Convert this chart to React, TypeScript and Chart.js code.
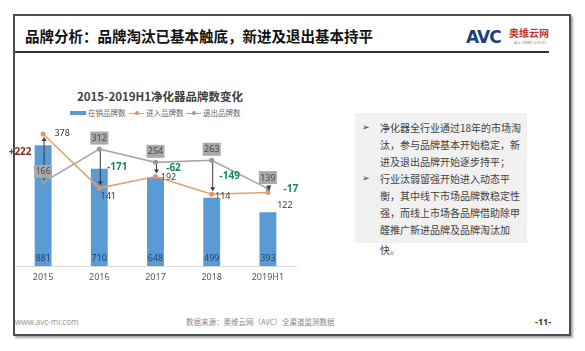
import React, { useEffect, useRef } from "react";
import { Chart, registerables } from "chart.js";

Chart.register(...registerables);

const categories = ["2015", "2016", "2017", "2018", "2019H1"];
const onSaleBrands = [881, 710, 648, 499, 393];
const enteringBrands = [378, 141, 192, 114, 122];
const exitingBrands = [166, 312, 254, 263, 139];
const netChangeLabels = ["+222", "-171", "-62", "-149", "-17"];

const seriesNames = ["在销品牌数", "进入品牌数", "退出品牌数"];
const chartTitle = "2015-2019H1净化器品牌数变化";
const slideTitle = "品牌分析：品牌淘汰已基本触底，新进及退出基本持平";
const bulletLines = [
  { bullet: true, text: "净化器全行业通过18年的市场淘" },
  { bullet: false, text: "汰，参与品牌基本开始稳定，新" },
  { bullet: false, text: "进及退出品牌开始逐步持平；" },
  { bullet: true, text: "行业汰弱留强开始进入动态平" },
  { bullet: false, text: "衡，其中线下市场品牌数稳定性" },
  { bullet: false, text: "强，而线上市场各品牌借助除甲" },
  { bullet: false, text: "醛推广新进品牌及品牌淘汰加" },
  { bullet: false, text: "快。" },
];

const BLUE = "#5b9bd5";
const ORANGE = "#dea26e";
const GRAY = "#a5a5a5";
const CJK = "'Noto Sans CJK SC', 'Noto Sans', sans-serif";
const NUM = "'Noto Sans', 'DejaVu Sans', sans-serif";

const labelPlugin = {
  id: "slideLabels",
  afterDatasetsDraw(chart: any) {
    const ctx = chart.ctx as CanvasRenderingContext2D;
    const barMeta = chart.getDatasetMeta(0);
    const inMeta = chart.getDatasetMeta(1);
    const outMeta = chart.getDatasetMeta(2);
    const bottom = chart.chartArea.bottom;
    ctx.save();
    ctx.textAlign = "center";
    ctx.textBaseline = "middle";

    // bar values
    ctx.font = `9px ${NUM}`;
    ctx.fillStyle = "#24446a";
    barMeta.data.forEach((b: any, i: number) => {
      ctx.fillText(String(onSaleBrands[i]), b.x, bottom - 8);
    });

    // arrows from exit to entry
    categories.forEach((_, i) => {
      const x = outMeta.data[i].x + 1;
      const y0 = outMeta.data[i].y;
      const y1 = inMeta.data[i].y;
      const dir = y1 > y0 ? 1 : -1;
      const yEnd = y1 - dir * 3;
      ctx.strokeStyle = "#3a3a3a";
      ctx.fillStyle = "#3a3a3a";
      ctx.lineWidth = 1;
      ctx.beginPath();
      ctx.moveTo(x, y0 + dir * 2);
      ctx.lineTo(x, yEnd - dir * 3);
      ctx.stroke();
      ctx.beginPath();
      ctx.moveTo(x, yEnd);
      ctx.lineTo(x - 2.5, yEnd - dir * 4);
      ctx.lineTo(x + 2.5, yEnd - dir * 4);
      ctx.closePath();
      ctx.fill();
    });

    // exit labels in gray boxes
    ctx.font = `9px ${NUM}`;
    outMeta.data.forEach((p: any, i: number) => {
      const cx = p.x;
      const cy = p.y - 11;
      ctx.fillStyle = "#a9a9a9";
      ctx.fillRect(cx - 9, cy - 6.5, 18, 13);
      ctx.fillStyle = "#4a4a4a";
      ctx.fillText(String(exitingBrands[i]), cx, cy + 0.5);
    });

    // entry labels
    const inOff = [
      [19, -1],
      [9, 8],
      [13, 1],
      [11, 2],
      [17, 13],
    ];
    ctx.fillStyle = "#404040";
    inMeta.data.forEach((p: any, i: number) => {
      ctx.fillText(String(enteringBrands[i]), p.x + inOff[i][0], p.y + inOff[i][1]);
    });

    // net change labels
    ctx.font = `bold 10px ${NUM}`;
    categories.forEach((_, i) => {
      const x = outMeta.data[i].x;
      const mid = (outMeta.data[i].y + inMeta.data[i].y) / 2;
      const dx = i === 0 ? -23 : i === categories.length - 1 ? 23 : 18;
      const dy = i === 0 ? -6 : -1;
      ctx.fillStyle = i === 0 ? "#8a2b2b" : "#15895a";
      ctx.fillText(netChangeLabels[i], x + dx, mid + dy);
    });
    ctx.restore();
  },
};

function ChartCanvas() {
  const ref = useRef<HTMLCanvasElement>(null);
  useEffect(() => {
    if (!ref.current) return;
    const chart = new Chart(ref.current, {
      type: "bar",
      data: {
        labels: categories,
        datasets: [
          {
            type: "bar",
            label: seriesNames[0],
            data: onSaleBrands,
            backgroundColor: BLUE,
            barPercentage: 0.3,
            categoryPercentage: 1,
            yAxisID: "y",
            order: 3,
          } as any,
          {
            type: "line",
            label: seriesNames[1],
            data: enteringBrands,
            borderColor: ORANGE,
            backgroundColor: "#e8906a",
            borderWidth: 1.6,
            pointRadius: 2.5,
            pointBorderWidth: 0,
            yAxisID: "y1",
            order: 1,
          },
          {
            type: "line",
            label: seriesNames[2],
            data: exitingBrands,
            borderColor: GRAY,
            backgroundColor: "#999999",
            borderWidth: 1.6,
            pointRadius: 2.5,
            pointBorderWidth: 0,
            yAxisID: "y1",
            order: 2,
          },
        ],
      },
      options: {
        animation: false,
        responsive: false,
        maintainAspectRatio: false,
        layout: { padding: { left: 15, right: 289, top: 129, bottom: 65 } },
        plugins: {
          legend: { display: false },
          title: { display: false },
          tooltip: { enabled: false },
        },
        scales: {
          x: {
            grid: { display: false, drawTicks: false },
            border: { display: true, color: "#d9d9d9", width: 1 },
            ticks: { color: "#595959", font: { size: 9, family: NUM }, padding: 6 },
            afterFit: (s: any) => {
              s.height = 20;
            },
          },
          y: { display: false, min: 0, max: 1000 },
          y1: { display: false, min: -200, max: 400, position: "right" },
        },
      },
      plugins: [labelPlugin],
    });
    return () => chart.destroy();
  }, []);
  return (
    <canvas
      ref={ref}
      width={585}
      height={351}
      style={{ position: "absolute", left: 0, top: 0, width: 585, height: 351 }}
    />
  );
}

export default function App() {
  const abs = (s: React.CSSProperties): React.CSSProperties => ({ position: "absolute", whiteSpace: "nowrap", ...s });
  return (
    <div style={{ position: "absolute", left: 0, top: 0, width: 585, height: 351, overflow: "hidden", background: "#fff", fontFamily: CJK }}>
      {/* slide frame */}
      <div style={abs({ left: 13, top: 14, width: 554, height: 318, border: "2px solid #4d4d4d", boxShadow: "2px 2px 2px rgba(0,0,0,0.35)" })} />
      <div style={abs({ left: 25, top: 26, fontSize: 14.5, fontWeight: 700, color: "#111", lineHeight: "20px" })}>{slideTitle}</div>
      <div style={abs({ left: 15, top: 51, width: 534, height: 2, background: "#333" })} />
      {/* logo */}
      <div style={abs({ left: 466, top: 27, fontSize: 17, fontWeight: 700, color: "#1d3f7a", fontFamily: "'DejaVu Sans', sans-serif", lineHeight: "20px", letterSpacing: -1 })}>AVC</div>
      <div style={abs({ left: 509, top: 27, fontSize: 10, fontWeight: 700, color: "#c0392b", lineHeight: "12px" })}>奥维云网</div>
      <div style={abs({ left: 514, top: 40, fontSize: 4, color: "#888", lineHeight: "5px", fontFamily: NUM })}>ALL VIEW CLOUD</div>

      {/* chart title + legend */}
      <div style={abs({ left: 77, top: 88, width: 160, textAlign: "center", fontSize: 11.5, fontWeight: 700, color: "#404040", lineHeight: "16px" })}>{chartTitle}</div>
      <div style={abs({ left: 70, top: 111, width: 16, height: 4, background: BLUE })} />
      <div style={abs({ left: 88, top: 108, fontSize: 7.5, color: "#666", lineHeight: "10px" })}>{seriesNames[0]}</div>
      <div style={abs({ left: 129, top: 112.5, width: 15, height: 1.5, background: ORANGE })} />
      <div style={abs({ left: 134.5, top: 111, width: 4, height: 4, borderRadius: 2, background: "#e8906a" })} />
      <div style={abs({ left: 146, top: 108, fontSize: 7.5, color: "#666", lineHeight: "10px" })}>{seriesNames[1]}</div>
      <div style={abs({ left: 186, top: 112.5, width: 15, height: 1.5, background: GRAY })} />
      <div style={abs({ left: 191.5, top: 111, width: 4, height: 4, borderRadius: 2, background: "#999" })} />
      <div style={abs({ left: 203, top: 108, fontSize: 7.5, color: "#666", lineHeight: "10px" })}>{seriesNames[2]}</div>

      {/* text box */}
      <div style={abs({ left: 355, top: 113, width: 172, height: 130, background: "#f1f1f1" })} />
      {bulletLines.map((l, i) => (
        <React.Fragment key={i}>
          {l.bullet && (
            <div style={abs({ left: 362, top: 119 + i * 17, fontSize: 9, color: "#333", lineHeight: "17px", fontFamily: "'DejaVu Sans', sans-serif" })}>➢</div>
          )}
          <div style={abs({ left: 380, top: 119 + i * 17 + (i === 7 ? 3 : 0), fontSize: 10, color: "#404040", lineHeight: "17px" })}>{l.text}</div>
        </React.Fragment>
      ))}

      {/* footer */}
      <div style={abs({ left: 15, top: 316, fontSize: 8, color: "#999", lineHeight: "12px", fontFamily: NUM })}>www.avc-mr.com</div>
      <div style={abs({ left: 186, top: 316, fontSize: 7.5, color: "#888", lineHeight: "12px" })}>数据来源：奥维云网（AVC）全渠道监测数据</div>
      <div style={abs({ left: 535, top: 316, fontSize: 9, fontWeight: 700, color: "#333", lineHeight: "12px", fontFamily: NUM })}>-11-</div>

      <ChartCanvas />
    </div>
  );
}
